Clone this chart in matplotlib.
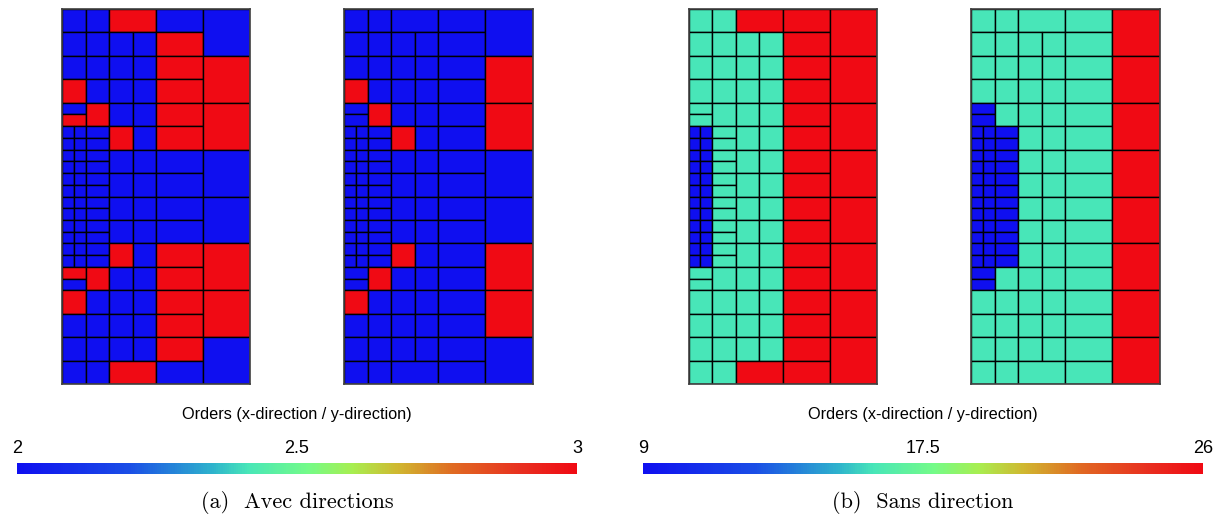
import matplotlib
matplotlib.use("Agg")
import matplotlib.pyplot as plt
from matplotlib.patches import Rectangle
from matplotlib.collections import PatchCollection
from matplotlib.colors import LinearSegmentedColormap, Normalize

# mesh: 8 x 16 units, rows counted from the top
# cells per row type (x0, dy, w, h) relative to row top
row_edge = [(0, 0, 1, 1), (1, 0, 1, 1), (2, 0, 2, 1), (4, 0, 2, 1)]
row_plain = [(0, 0, 1, 1), (1, 0, 1, 1), (2, 0, 1, 1), (3, 0, 1, 1), (4, 0, 2, 1)]
row_half = [(0, 0, 1, .5), (0, .5, 1, .5), (1, 0, 1, 1), (2, 0, 1, 1), (3, 0, 1, 1), (4, 0, 2, 1)]
row_quarter = [(0, 0, .5, .5), (.5, 0, .5, .5), (0, .5, .5, .5), (.5, .5, .5, .5),
               (1, 0, 1, .5), (1, .5, 1, .5), (2, 0, 1, 1), (3, 0, 1, 1), (4, 0, 2, 1)]
row_types = [row_edge, row_plain, row_plain, row_plain, row_half,
             row_quarter, row_quarter, row_quarter, row_quarter, row_quarter, row_quarter,
             row_half, row_plain, row_plain, row_plain, row_edge]

# cell codes: l = low order, m = middle, h = high order
avec_1 = ["llhl", "llllh", "llllh", "hlllh", "lhhllh", "llllllhlh",
          "lllllllll", "lllllllll", "lllllllll", "lllllllll", "llllllhlh",
          "hlhllh", "hlllh", "llllh", "llllh", "llhl"]
avec_1_right = "lhhllhhl"
avec_2 = ["llll", "lllll", "lllll", "hllll", "llhlll", "llllllhll",
          "lllllllll", "lllllllll", "lllllllll", "lllllllll", "llllllhll",
          "llhlll", "hllll", "lllll", "lllll", "llll"]
avec_2_right = "lhhllhhl"
sans_1 = ["mmhh", "mmmmh", "mmmmh", "mmmmh", "mmmmmh", "llllmmmmh",
          "llllmmmmh", "llllmmmmh", "llllmmmmh", "llllmmmmh", "llllmmmmh",
          "mmmmmh", "mmmmh", "mmmmh", "mmmmh", "mmhh"]
sans_1_right = "hhhhhhhh"
sans_2 = ["mmmm", "mmmmm", "mmmmm", "mmmmm", "llmmmm", "llllllmmm",
          "llllllmmm", "llllllmmm", "llllllmmm", "llllllmmm", "llllllmmm",
          "llmmmm", "mmmmm", "mmmmm", "mmmmm", "mmmm"]
sans_2_right = "hhhhhhhh"

avec_levels = {"l": 2, "m": 2.5, "h": 3}
sans_levels = {"l": 9, "m": 16, "h": 26}
avec_ticks = [2, 2.5, 3]
sans_ticks = [9, 17.5, 26]

cmap = LinearSegmentedColormap.from_list("pv_rainbow", [
    (0.0, "#0f0ff0"), (0.2, "#1a4ee6"), (0.35, "#2eb4cc"), (0.412, "#48e6b8"),
    (0.52, "#74fb88"), (0.6, "#a8ee50"), (0.68, "#d0b830"), (0.78, "#e06a22"),
    (0.9, "#e83020"), (1.0, "#f00a14")])

W, H = 1227, 522
fig = plt.figure(figsize=(W / 100, H / 100), dpi=100)


def draw_mesh(px, rows, right, levels, vmin, vmax):
    ax = fig.add_axes([px / W, 1 - 384 / H, 188.5 / W, 375 / H])
    rects, vals = [], []
    for r, (cells, codes) in enumerate(zip(row_types, rows)):
        for (x0, dy, w, h), c in zip(cells, codes):
            rects.append(Rectangle((x0, r + dy), w, h))
            vals.append(levels[c])
    for k, c in enumerate(right):
        rects.append(Rectangle((6, 2 * k), 2, 2))
        vals.append(levels[c])
    pc = PatchCollection(rects, cmap=cmap, norm=Normalize(vmin, vmax),
                         edgecolor="black", linewidth=1.0)
    pc.set_array(vals)
    ax.add_collection(pc)
    ax.set_xlim(0, 8)
    ax.set_ylim(16, 0)
    ax.set_xticks([])
    ax.set_yticks([])
    for s in ax.spines.values():
        s.set_color("#404040")
        s.set_linewidth(1.2)
    return pc


def draw_bar(px, cx, ticks, caption):
    cax = fig.add_axes([px / W, 1 - 474 / H, 560 / W, 11 / H])
    sm = plt.cm.ScalarMappable(norm=Normalize(ticks[0], ticks[-1]), cmap=cmap)
    cb = fig.colorbar(sm, cax=cax, orientation="horizontal", ticks=ticks)
    cb.outline.set_visible(False)
    cax.xaxis.set_ticks_position("top")
    cax.tick_params(length=0, pad=4, labelsize=13)
    cax.set_xticklabels([f"{t:g}" for t in ticks], family="Liberation Sans")
    fig.text(cx / W, 1 - 415 / H, "Orders (x-direction / y-direction)",
             ha="center", va="center", fontsize=11.7, family="Liberation Sans")
    fig.text(cx / W, 1 - 502 / H, caption, ha="center", va="center",
             fontsize=16, family="cmr10")


draw_mesh(62, avec_1, avec_1_right, avec_levels, 2, 3)
draw_mesh(344, avec_2, avec_2_right, avec_levels, 2, 3)
draw_mesh(688.5, sans_1, sans_1_right, sans_levels, 9, 26)
draw_mesh(971, sans_2, sans_2_right, sans_levels, 9, 26)

draw_bar(17, 297, avec_ticks, "(a)  Avec directions")
draw_bar(643, 923, sans_ticks, "(b)  Sans direction")

fig.savefig("out.png", dpi=100)
